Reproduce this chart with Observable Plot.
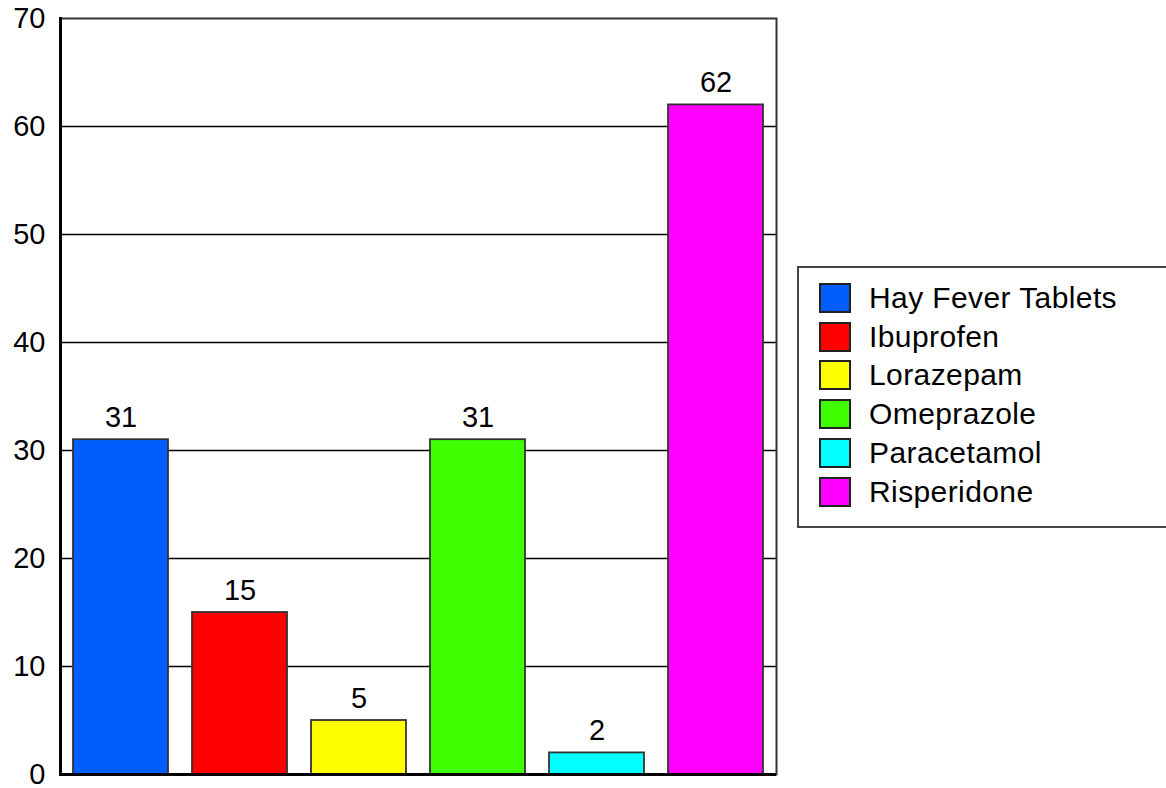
<!DOCTYPE html>
<html>
<head>
<meta charset="utf-8">
<script src="https://cdn.jsdelivr.net/npm/d3@7"></script>
<script src="https://cdn.jsdelivr.net/npm/@observablehq/plot@0.6"></script>
<style>
  html, body { margin: 0; padding: 0; background: #fff; overflow: hidden; }
  #wrap { position: relative; width: 1166px; height: 788px; font-family: "Liberation Sans", Arial, sans-serif; }
  #chart { position: absolute; left: 0; top: 0; }
  #legend { position: absolute; left: 797px; top: 266px; width: 380px; height: 262px; border: 2px solid #444; box-sizing: border-box; }
  .item { position: absolute; left: 20px; height: 30px; display: flex; align-items: center; font-size: 30px; letter-spacing: 0.4px; color: #000; white-space: nowrap; }
  .sw { width: 28px; height: 26px; border: 2px solid #222; margin-right: 18px; box-sizing: content-box; }
</style>
</head>
<body>
<div id="wrap">
  <div id="chart"></div>
  <div id="legend"></div>
</div>
<script>
const categories = ["Hay Fever Tablets", "Ibuprofen", "Lorazepam", "Omeprazole", "Paracetamol", "Risperidone"];
const values = [31, 15, 5, 31, 2, 62];
const colors = ["#005eff", "#ff0000", "#ffff00", "#40ff00", "#00ffff", "#ff00ff"];
const yTicks = [0, 10, 20, 30, 40, 50, 60, 70];

const data = categories.map((c, i) => ({ category: c, value: values[i] }));

const chart = Plot.plot({
  width: 790,
  height: 788,
  marginLeft: 60,
  marginRight: 14,
  marginTop: 18,
  marginBottom: 14,
  style: { fontFamily: "'Liberation Sans', Arial, sans-serif", fontSize: "29px", color: "#000", background: "#fff", overflow: "visible" },
  x: { domain: categories, paddingInner: 0.2, paddingOuter: 0.1, axis: null },
  y: { domain: [0, 70], ticks: yTicks, label: null },
  color: { domain: categories, range: colors },
  marks: [
    Plot.gridY(yTicks.filter(d => d > 0 && d < 70), { stroke: "#000", strokeOpacity: 1, strokeWidth: 1.3 }),
    Plot.frame({ stroke: "#333", strokeWidth: 2 }),
    Plot.barY(data, { x: "category", y: "value", fill: "category", stroke: "#333", strokeWidth: 1.8 }),
    Plot.text(data, { x: "category", y: "value", text: d => String(d.value), lineAnchor: "bottom", dy: -13, fontSize: 29, fill: "#000" }),
    Plot.frame({ anchor: "left", stroke: "#000", strokeWidth: 3 }),
    Plot.ruleY([0], { stroke: "#000", strokeWidth: 3 }),
    Plot.axisY({ ticks: yTicks, tickSize: 0, tickPadding: 15, fontSize: 29, label: null })
  ]
});
document.getElementById("chart").appendChild(chart);

const legend = document.getElementById("legend");
categories.forEach((c, i) => {
  const item = document.createElement("div");
  item.className = "item";
  item.style.top = (15 + i * 38.7) + "px";
  const sw = document.createElement("div");
  sw.className = "sw";
  sw.style.background = colors[i];
  const label = document.createElement("span");
  label.textContent = c;
  item.appendChild(sw);
  item.appendChild(label);
  legend.appendChild(item);
});
</script>
</body>
</html>
